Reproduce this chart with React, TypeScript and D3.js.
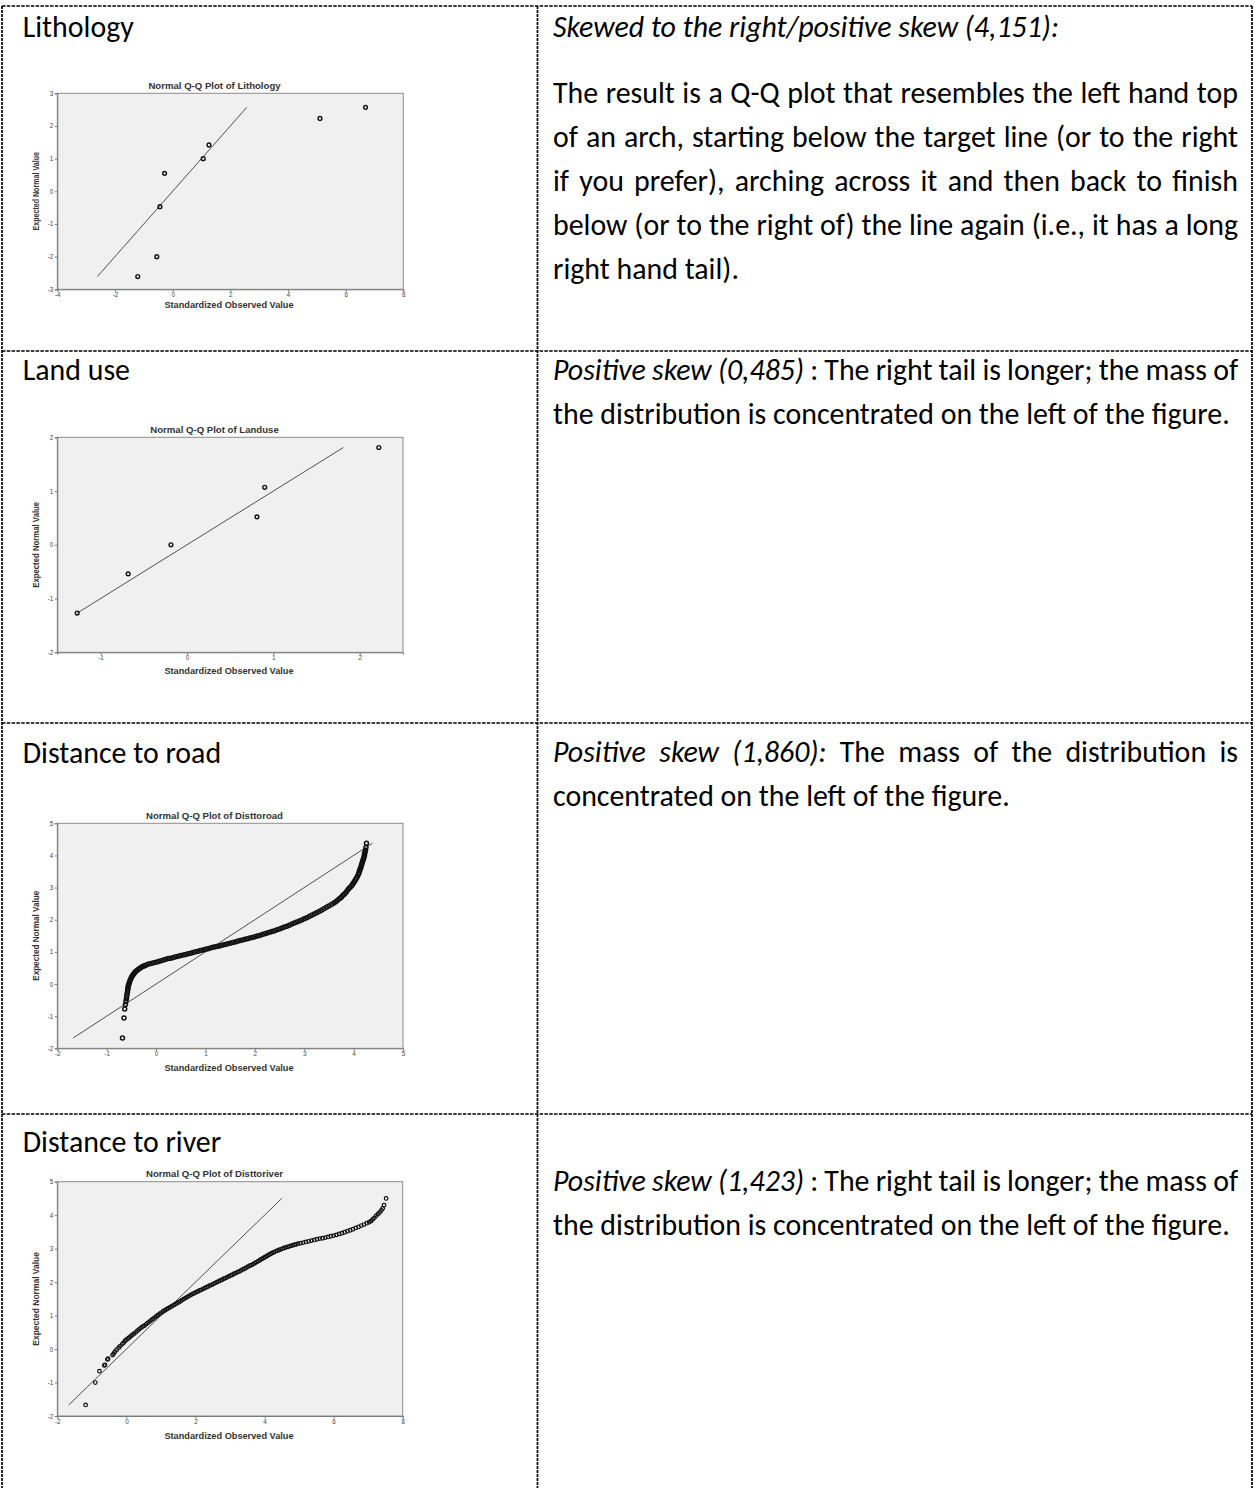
import React, { useEffect, useRef } from 'react';
import * as d3 from 'd3';

const WIDTH = 1255;
const HEIGHT = 1488;

const BODY_FONT = "Carlito, Calibri, Lato, 'Open Sans', sans-serif";
const PLOT_FONT = "'Liberation Sans', Arial, sans-serif";

const lithologyPoints: [number, number][] = [
  [-1.21, -2.61], [-0.55, -2.0], [-0.44, -0.47], [-0.28, 0.55],
  [1.06, 1.0], [1.26, 1.42], [5.11, 2.23], [6.69, 2.57],
];

const landusePoints: [number, number][] = [
  [-1.27, -1.27], [-0.68, -0.54], [-0.185, 0.0], [0.81, 0.52], [0.9, 1.07], [2.22, 1.81],
];

// dense band
const disttoroadPoints: [number, number][] = [
  [-0.68, -1.68], [-0.65, -1.06], [-0.635, -0.78], [-0.62, -0.64], [-0.61, -0.54], [-0.6, -0.46],
  [-0.595, -0.4], [-0.59, -0.33], [-0.58, -0.26], [-0.575, -0.19], [-0.57, -0.14], [-0.565, -0.09],
  [-0.56, -0.05], [-0.55, 0.0], [-0.54, 0.05], [-0.53, 0.1], [-0.515, 0.15], [-0.5, 0.2],
  [-0.485, 0.24], [-0.47, 0.28], [-0.45, 0.32], [-0.43, 0.36], [-0.41, 0.4], [-0.38, 0.43],
  [-0.35, 0.47], [-0.32, 0.5], [-0.29, 0.53], [-0.26, 0.55], [-0.23, 0.57], [-0.2, 0.595],
  [-0.15, 0.62], [-0.1, 0.64], [-0.05, 0.66], [0.0, 0.68], [0.05, 0.7], [0.1, 0.725],
  [0.15, 0.745], [0.2, 0.77], [0.25, 0.79], [0.3, 0.805], [0.35, 0.825], [0.4, 0.845],
  [0.45, 0.865], [0.5, 0.885], [0.55, 0.905], [0.6, 0.92], [0.65, 0.94], [0.7, 0.96],
  [0.75, 0.98], [0.8, 1.0], [0.85, 1.02], [0.9, 1.04], [0.95, 1.06], [1.0, 1.08],
  [1.05, 1.1], [1.1, 1.12], [1.15, 1.14], [1.2, 1.16], [1.25, 1.175], [1.3, 1.19],
  [1.35, 1.21], [1.4, 1.23], [1.45, 1.25], [1.5, 1.27], [1.55, 1.29], [1.6, 1.31],
  [1.65, 1.33], [1.7, 1.35], [1.75, 1.37], [1.8, 1.39], [1.85, 1.41], [1.9, 1.43],
  [1.95, 1.45], [2.0, 1.47], [2.05, 1.49], [2.1, 1.51], [2.15, 1.54], [2.2, 1.56],
  [2.25, 1.585], [2.3, 1.61], [2.35, 1.635], [2.4, 1.66], [2.45, 1.69], [2.5, 1.715],
  [2.55, 1.745], [2.6, 1.775], [2.65, 1.8], [2.7, 1.83], [2.75, 1.865], [2.8, 1.895],
  [2.85, 1.93], [2.9, 1.96], [2.95, 1.995], [3.0, 2.03], [3.05, 2.065], [3.1, 2.1],
  [3.15, 2.14], [3.2, 2.175], [3.25, 2.215], [3.3, 2.255], [3.35, 2.295], [3.4, 2.34],
  [3.45, 2.385], [3.5, 2.43], [3.55, 2.475], [3.6, 2.52], [3.64, 2.56], [3.68, 2.61],
  [3.72, 2.66], [3.75, 2.7], [3.78, 2.75], [3.81, 2.79], [3.84, 2.84], [3.87, 2.9],
  [3.9, 2.96], [3.93, 3.01], [3.96, 3.06], [3.98, 3.1], [4.0, 3.15], [4.02, 3.2],
  [4.04, 3.25], [4.06, 3.3], [4.08, 3.36], [4.1, 3.42], [4.11, 3.47], [4.12, 3.52],
  [4.13, 3.56], [4.14, 3.6], [4.15, 3.65], [4.16, 3.7], [4.17, 3.75], [4.18, 3.8],
  [4.19, 3.85], [4.2, 3.9], [4.21, 3.95], [4.22, 4.0], [4.22, 4.05], [4.23, 4.09],
  [4.24, 4.15], [4.25, 4.25], [4.26, 4.38],
];

const disttoriverPoints: [number, number][] = [
  [-1.18, -1.67], [-0.9, -1.0], [-0.78, -0.66], [-0.64, -0.49], [-0.62, -0.47], [-0.55, -0.31],
  [-0.53, -0.29], [-0.4, -0.18], [-0.37, -0.14], [-0.33, -0.08], [-0.28, -0.02], [-0.22, 0.04],
  [-0.18, 0.09], [-0.12, 0.15], [-0.08, 0.19], [-0.04, 0.24], [0.0, 0.28], [0.04, 0.31],
  [0.08, 0.34], [0.12, 0.38], [0.17, 0.42], [0.22, 0.46], [0.27, 0.5], [0.32, 0.55],
  [0.37, 0.59], [0.42, 0.63], [0.47, 0.67], [0.52, 0.7], [0.57, 0.74], [0.62, 0.78],
  [0.67, 0.82], [0.72, 0.86], [0.77, 0.9], [0.82, 0.94], [0.87, 0.98], [0.92, 1.02],
  [0.97, 1.06], [1.02, 1.09], [1.07, 1.13], [1.12, 1.16], [1.17, 1.19], [1.22, 1.22],
  [1.27, 1.25], [1.32, 1.28], [1.37, 1.31], [1.42, 1.34], [1.47, 1.37], [1.52, 1.4],
  [1.57, 1.43], [1.62, 1.47], [1.67, 1.5], [1.72, 1.53], [1.77, 1.56], [1.82, 1.59],
  [1.87, 1.62], [1.92, 1.65], [1.97, 1.67], [2.02, 1.7], [2.07, 1.72], [2.12, 1.75],
  [2.17, 1.77], [2.22, 1.8], [2.27, 1.82], [2.32, 1.85], [2.37, 1.87], [2.42, 1.9],
  [2.47, 1.92], [2.52, 1.95], [2.57, 1.97], [2.62, 2.0], [2.67, 2.02], [2.72, 2.05],
  [2.77, 2.07], [2.82, 2.1], [2.87, 2.12], [2.92, 2.15], [2.97, 2.17], [3.02, 2.2],
  [3.07, 2.22], [3.12, 2.25], [3.17, 2.27], [3.22, 2.3], [3.27, 2.32], [3.32, 2.35],
  [3.37, 2.38], [3.42, 2.4], [3.47, 2.43], [3.52, 2.46], [3.57, 2.49], [3.62, 2.51],
  [3.67, 2.54], [3.72, 2.57], [3.77, 2.6], [3.82, 2.63], [3.87, 2.66], [3.92, 2.69],
  [3.97, 2.72], [4.02, 2.75], [4.07, 2.78], [4.12, 2.81], [4.17, 2.84], [4.22, 2.87],
  [4.27, 2.89], [4.32, 2.92], [4.37, 2.94], [4.42, 2.96], [4.47, 2.98], [4.52, 3.0],
  [4.57, 3.02], [4.62, 3.04], [4.67, 3.05], [4.72, 3.07], [4.77, 3.09], [4.82, 3.1],
  [4.87, 3.12], [4.92, 3.13], [4.97, 3.15], [5.04, 3.16], [5.12, 3.18], [5.2, 3.2],
  [5.28, 3.22], [5.36, 3.24], [5.44, 3.26], [5.52, 3.28], [5.6, 3.3], [5.68, 3.31],
  [5.76, 3.33], [5.84, 3.35], [5.92, 3.37], [6.0, 3.39], [6.08, 3.41], [6.16, 3.44],
  [6.24, 3.46], [6.32, 3.49], [6.4, 3.52], [6.48, 3.55], [6.56, 3.58], [6.64, 3.62],
  [6.72, 3.65], [6.8, 3.69], [6.88, 3.72], [6.96, 3.76], [7.03, 3.79], [7.08, 3.82],
  [7.13, 3.87], [7.18, 3.92], [7.23, 3.98], [7.28, 4.03], [7.33, 4.08], [7.38, 4.14],
  [7.42, 4.2], [7.46, 4.3], [7.52, 4.5],
];

// axis ranges and tick labels
const lithologyXDomain = [-4, 8];
const lithologyYDomain = [-3, 3];
const lithologyXTicks = [-4, -2, 0, 2, 4, 6, 8];
const lithologyYTicks = [-3, -2, -1, 0, 1, 2, 3];
const landuseXDomain = [-1.5, 2.5];
const landuseYDomain = [-2, 2];
const landuseXTicks = [-1, 0, 1, 2];
const landuseYTicks = [-2, -1, 0, 1, 2];
const roadXDomain = [-2, 5];
const roadYDomain = [-2, 5];
const roadXTicks = [-2, -1, 0, 1, 2, 3, 4, 5];
const roadYTicks = [-2, -1, 0, 1, 2, 3, 4, 5];
const riverXDomain = [-2, 8];
const riverYDomain = [-2, 5];
const riverXTicks = [-2, 0, 2, 4, 6, 8];
const riverYTicks = [-2, -1, 0, 1, 2, 3, 4, 5];

const plotNames = ['Lithology', 'Landuse', 'Disttoroad', 'Disttoriver'];
const rowLabels = ['Lithology', 'Land use', 'Distance to road', 'Distance to river'];

// [italic part, plain part, justified]
const rowNotes: [string, string, boolean][][] = [
  [
    ['Skewed to the right/positive skew (4,151):', '', false],
    ['', 'The result is a Q-Q plot that resembles the left hand top', true],
    ['', 'of an arch, starting below the target line (or to the right', true],
    ['', 'if you prefer), arching across it and then back to finish', true],
    ['', 'below (or to the right of) the line again (i.e., it has a long', true],
    ['', 'right hand tail).', false],
  ],
  [
    ['Positive skew (0,485)', ': The right tail is longer; the mass of', true],
    ['', 'the distribution is concentrated on the left of the figure.', false],
  ],
  [
    ['Positive skew (1,860):', 'The mass of the distribution is', true],
    ['', 'concentrated on the left of the figure.', false],
  ],
  [
    ['Positive skew (1,423)', ': The right tail is longer; the mass of', true],
    ['', 'the distribution is concentrated on the left of the figure.', false],
  ],
];

// page layout (pixels)
const tableRowLines = [6, 351, 723, 1114];
const tableColLines = [2, 537.5, 1252];
const labelBaselines = [37, 380, 763, 1152];
const noteBaselines = [[37, 103, 147, 191, 235, 279], [380, 424], [762, 806], [1191, 1235]];
const plotFrames = [
  { x0: 57.3, x1: 403.3, y0: 93.3, y1: 289.3, titleY: 89, xTitleY: 308, r: 1.9, sw: 1.4 },
  { x0: 57.3, x1: 403, y0: 437.3, y1: 652.3, titleY: 433, xTitleY: 674, r: 1.9, sw: 1.4 },
  { x0: 57.3, x1: 403, y0: 823.3, y1: 1048.3, titleY: 819, xTitleY: 1071, r: 2.0, sw: 1.5 },
  { x0: 57.3, x1: 402.7, y0: 1181.7, y1: 1416, titleY: 1177, xTitleY: 1439, r: 1.8, sw: 1.2 },
];

const plots = [
  { points: lithologyPoints, xDomain: lithologyXDomain, yDomain: lithologyYDomain, xTicks: lithologyXTicks, yTicks: lithologyYTicks },
  { points: landusePoints, xDomain: landuseXDomain, yDomain: landuseYDomain, xTicks: landuseXTicks, yTicks: landuseYTicks },
  { points: disttoroadPoints, xDomain: roadXDomain, yDomain: roadYDomain, xTicks: roadXTicks, yTicks: roadYTicks },
  { points: disttoriverPoints, xDomain: riverXDomain, yDomain: riverYDomain, xTicks: riverXTicks, yTicks: riverYTicks },
].map((p, i) => ({ ...p, name: plotNames[i], frame: plotFrames[i] }));

const TEXT_LEFT = 22.7;
const NOTE_LEFT = 553;
const NOTE_RIGHT = 1238;
// the last line of "Land use" sets the font size: it runs from 553 to about 1230
const SIZE_PROBE = 'the distribution is concentrated on the left of the figure.';
const SIZE_PROBE_WIDTH = 677;

const App = () => {
  const svgRef = useRef<SVGSVGElement>(null);

  useEffect(() => {
    const draw = () => {
      const svg = d3.select(svgRef.current);
      svg.selectAll('*').remove();
      svg.append('rect').attr('width', WIDTH).attr('height', HEIGHT).attr('fill', '#ffffff');

      // work out a body font size that gives the same line widths as the document
      const measure = (txt: string, size: number, italic = false) => {
        const t = svg.append('text')
          .style('font-family', BODY_FONT)
          .style('font-size', size + 'px')
          .style('font-style', italic ? 'italic' : 'normal')
          .text(txt);
        const w = (t.node() as SVGTextElement).getComputedTextLength();
        t.remove();
        return w;
      };
      const fs = 100 * SIZE_PROBE_WIDTH / measure(SIZE_PROBE, 100);
      const spaceW = measure('a a', fs) - measure('aa', fs);

      // dashed table grid
      const grid = svg.append('g');
      grid.selectAll('.hline')
        .data(tableRowLines)
        .enter().append('line')
        .attr('x1', tableColLines[0]).attr('x2', tableColLines[2])
        .attr('y1', d => d).attr('y2', d => d)
        .style('stroke', '#000').style('stroke-width', 1.4)
        .style('stroke-dasharray', '3.5 1.3');
      grid.selectAll('.vline')
        .data(tableColLines)
        .enter().append('line')
        .attr('x1', d => d).attr('x2', d => d)
        .attr('y1', tableRowLines[0]).attr('y2', HEIGHT)
        .style('stroke', '#000').style('stroke-width', 1.7)
        .style('stroke-dasharray', '3 1');

      // left column labels
      svg.selectAll('.row-label')
        .data(rowLabels)
        .enter().append('text')
        .attr('x', TEXT_LEFT)
        .attr('y', (d, i) => labelBaselines[i])
        .style('font-family', BODY_FONT)
        .style('font-size', fs + 'px')
        .style('fill', '#000')
        .text(d => d);

      // right column notes, word by word so that justified lines fill the cell
      rowNotes.forEach((lines, r) => {
        lines.forEach(([it, tx, justify], li) => {
          const y = noteBaselines[r][li];
          const words = [
            ...it.split(' ').filter(Boolean).map(w => ({ w, italic: true })),
            ...tx.split(' ').filter(Boolean).map(w => ({ w, italic: false })),
          ];
          const nodes = words.map(d => svg.append('text')
            .attr('y', y)
            .style('font-family', BODY_FONT)
            .style('font-size', fs + 'px')
            .style('font-style', d.italic ? 'italic' : 'normal')
            .style('fill', '#000')
            .text(d.w));
          const widths = nodes.map(n => (n.node() as SVGTextElement).getComputedTextLength());
          const gap = justify && words.length > 1
            ? (NOTE_RIGHT - NOTE_LEFT - d3.sum(widths)) / (words.length - 1)
            : spaceW;
          let cx = NOTE_LEFT;
          nodes.forEach((n, i) => {
            n.attr('x', cx);
            cx += widths[i] + gap;
          });
        });
      });

      // the four normal Q-Q plots
      plots.forEach(p => {
        const f = p.frame;
        const g = svg.append('g');
        const x = d3.scaleLinear().domain(p.xDomain).range([f.x0, f.x1]);
        const y = d3.scaleLinear().domain(p.yDomain).range([f.y1, f.y0]);

        g.append('rect')
          .attr('x', f.x0).attr('y', f.y0)
          .attr('width', f.x1 - f.x0).attr('height', f.y1 - f.y0)
          .style('fill', '#f0f0f0')
          .style('stroke', '#8c8c8c')
          .style('stroke-width', 1);

        const xAxis = g.append('g')
          .attr('transform', `translate(0,${f.y1})`)
          .call(d3.axisBottom(x).tickValues(p.xTicks).tickSize(2.5).tickPadding(1.2).tickFormat(d => String(d)));
        const yAxis = g.append('g')
          .attr('transform', `translate(${f.x0},0)`)
          .call(d3.axisLeft(y).tickValues(p.yTicks).tickSize(2.5).tickPadding(1.5).tickFormat(d => String(d)));
        [xAxis, yAxis].forEach(a => {
          a.select('.domain').style('stroke', '#7a7a7a');
          a.selectAll('.tick line').style('stroke', '#7a7a7a');
          a.selectAll('.tick text')
            .style('font-family', PLOT_FONT)
            .style('font-size', '6.3px')
            .style('fill', '#444');
        });

        // reference line y = x over the range of the expected values
        const [lo, hi] = d3.extent(p.points, d => d[1]) as [number, number];
        g.append('line')
          .attr('x1', x(lo)).attr('y1', y(lo))
          .attr('x2', x(hi)).attr('y2', y(hi))
          .style('stroke', '#505050')
          .style('stroke-width', 1);

        g.selectAll('.pt')
          .data(p.points)
          .enter().append('circle')
          .attr('cx', d => x(d[0]))
          .attr('cy', d => y(d[1]))
          .attr('r', f.r)
          .style('fill', 'none')
          .style('stroke', '#111')
          .style('stroke-width', f.sw);

        g.append('text')
          .attr('x', 214.5).attr('y', f.titleY)
          .style('text-anchor', 'middle')
          .style('font-family', PLOT_FONT)
          .style('font-size', '9.6px')
          .style('font-weight', 'bold')
          .style('fill', '#333')
          .text(`Normal Q-Q Plot of ${p.name}`);

        g.append('text')
          .attr('x', 229).attr('y', f.xTitleY)
          .style('text-anchor', 'middle')
          .style('font-family', PLOT_FONT)
          .style('font-size', '9.2px')
          .style('font-weight', 'bold')
          .style('fill', '#333')
          .text('Standardized Observed Value');

        // the y title was squeezed with each picture, so its length follows the frame height
        g.append('text')
          .attr('transform', `translate(39,${(f.y0 + f.y1) / 2}) rotate(-90)`)
          .attr('textLength', 0.4 * (f.y1 - f.y0))
          .attr('lengthAdjust', 'spacingAndGlyphs')
          .style('text-anchor', 'middle')
          .style('font-family', PLOT_FONT)
          .style('font-size', '8.6px')
          .style('font-weight', 'bold')
          .style('fill', '#333')
          .text('Expected Normal Value');
      });
    };

    draw();
    if (document.fonts && document.fonts.ready) document.fonts.ready.then(draw);
  }, []);

  return (
    <svg
      ref={svgRef}
      width={WIDTH}
      height={HEIGHT}
      style={{ position: 'absolute', left: 0, top: 0, display: 'block' }}
    />
  );
};

export default App;
